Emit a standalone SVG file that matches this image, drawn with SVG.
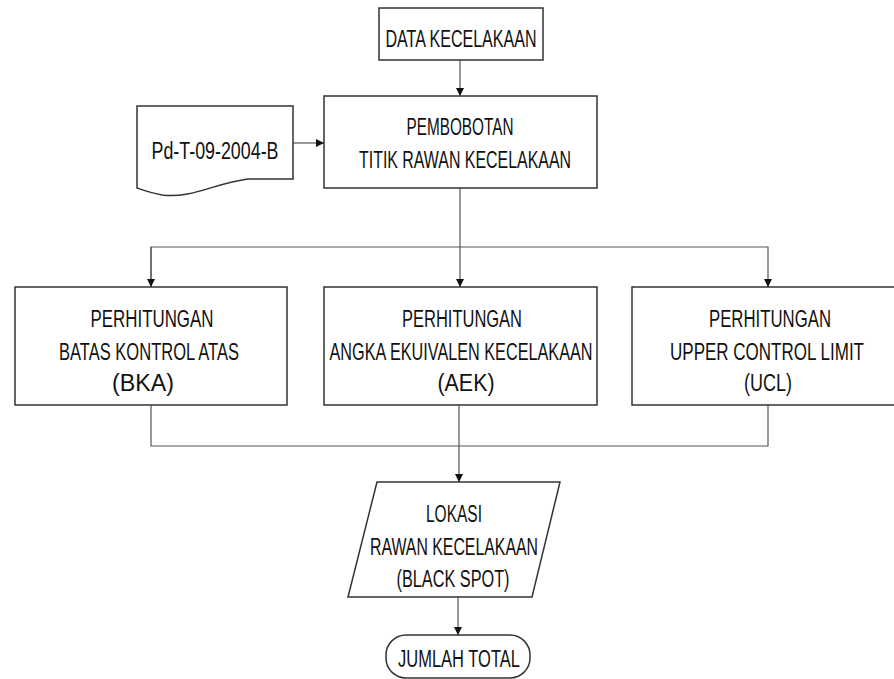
<svg xmlns="http://www.w3.org/2000/svg" width="894" height="679" viewBox="0 0 894 679">
<defs>
<style>
.box{fill:#fff;stroke:#333;stroke-width:1.5}
.t{font-family:"Liberation Sans",Arial,sans-serif;font-size:24px;fill:#111;text-anchor:middle}
.c{fill:none;stroke:#555;stroke-width:1.2}
</style>
<marker id="ah" viewBox="0 0 10 10" refX="10" refY="5" markerWidth="8" markerHeight="8" markerUnits="userSpaceOnUse" orient="auto">
<path d="M0,0 L10,5 L0,10 Z" fill="#111"/>
</marker>
</defs>
<rect width="894" height="679" fill="#fff"/>
<g id="connectors">
<line class="c" x1="460" y1="60" x2="460" y2="96" marker-end="url(#ah)"/>
<line class="c" x1="293" y1="143" x2="324" y2="143" marker-end="url(#ah)"/>
<line class="c" x1="460" y1="188" x2="460" y2="287" marker-end="url(#ah)"/>
<polyline class="c" points="151,287 151,247 768,247 768,287" marker-end="url(#ah)"/>
<line class="c" x1="151" y1="247" x2="151" y2="287" marker-end="url(#ah)"/>
<polyline class="c" points="151,405 151,446 768,446 768,405"/>
<line class="c" x1="459" y1="405" x2="459" y2="482" marker-end="url(#ah)"/>
<line class="c" x1="458" y1="597" x2="458" y2="635" marker-end="url(#ah)"/>
</g>
<g id="data">
<rect class="box" x="379" y="8" width="164" height="52"/>
<text class="t" transform="translate(461,47) scale(0.72,1)" textLength="209.7" lengthAdjust="spacingAndGlyphs">DATA KECELAKAAN</text>
</g>
<g id="pembobotan">
<rect class="box" x="324" y="96" width="273" height="92"/>
<text class="t" transform="translate(460,135) scale(0.72,1)" textLength="148.6" lengthAdjust="spacingAndGlyphs">PEMBOBOTAN</text>
<text class="t" transform="translate(465,168) scale(0.72,1)" textLength="294.4" lengthAdjust="spacingAndGlyphs">TITIK RAWAN KECELAKAAN</text>
</g>
<g id="pdt">
<path class="box" d="M137,106 H293 V179 H248 C215,183 192,199 162,195 C151,193 143,190 137,188 Z"/>
<text class="t" transform="translate(215,159) scale(0.72,1)" textLength="176.4" lengthAdjust="spacingAndGlyphs">Pd-T-09-2004-B</text>
</g>
<g id="bka">
<rect class="box" x="15" y="287" width="272" height="118"/>
<text class="t" transform="translate(152,327) scale(0.72,1)" textLength="170.8" lengthAdjust="spacingAndGlyphs">PERHITUNGAN</text>
<text class="t" transform="translate(149,360) scale(0.72,1)" textLength="250" lengthAdjust="spacingAndGlyphs">BATAS KONTROL ATAS</text>
<text class="t" transform="translate(143,391) scale(0.72,1)" textLength="86.1" lengthAdjust="spacingAndGlyphs">(BKA)</text>
</g>
<g id="aek">
<rect class="box" x="324" y="287" width="273" height="118"/>
<text class="t" transform="translate(462,327) scale(0.72,1)" textLength="166.7" lengthAdjust="spacingAndGlyphs">PERHITUNGAN</text>
<text class="t" transform="translate(461,360) scale(0.72,1)" textLength="365.3" lengthAdjust="spacingAndGlyphs">ANGKA EKUIVALEN KECELAKAAN</text>
<text class="t" transform="translate(466,391) scale(0.72,1)" textLength="79.2" lengthAdjust="spacingAndGlyphs">(AEK)</text>
</g>
<g id="ucl">
<path class="box" d="M894,287 H632 V405 H894"/>
<text class="t" transform="translate(770,327) scale(0.72,1)" textLength="169.4" lengthAdjust="spacingAndGlyphs">PERHITUNGAN</text>
<text class="t" transform="translate(767,360) scale(0.72,1)" textLength="269.4" lengthAdjust="spacingAndGlyphs">UPPER CONTROL LIMIT</text>
<text class="t" transform="translate(768,391) scale(0.72,1)" textLength="66.7" lengthAdjust="spacingAndGlyphs">(UCL)</text>
</g>
<g id="lokasi">
<polygon class="box" points="377,482 560,482 532,597 348,597"/>
<text class="t" transform="translate(454,522) scale(0.72,1)" textLength="77.8" lengthAdjust="spacingAndGlyphs">LOKASI</text>
<text class="t" transform="translate(454,555) scale(0.72,1)" textLength="233.3" lengthAdjust="spacingAndGlyphs">RAWAN KECELAKAAN</text>
<text class="t" transform="translate(453,587) scale(0.72,1)" textLength="156.9" lengthAdjust="spacingAndGlyphs">(BLACK SPOT)</text>
</g>
<g id="jumlah">
<rect class="box" x="386" y="635" width="144" height="43" rx="20" ry="20"/>
<text class="t" transform="translate(459,667) scale(0.72,1)" textLength="169.4" lengthAdjust="spacingAndGlyphs">JUMLAH TOTAL</text>
</g>
</svg>
